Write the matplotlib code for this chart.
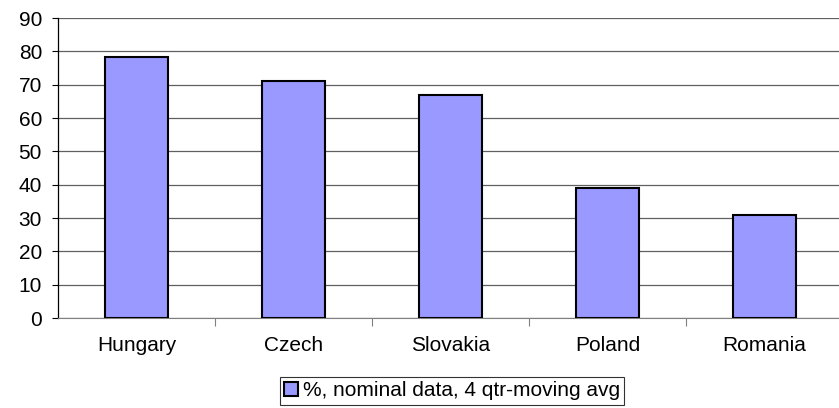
import matplotlib.pyplot as plt
import numpy as np

countries = ['Hungary', 'Czech', 'Slovakia', 'Poland', 'Romania']
values = [78.3, 71.2, 67.0, 39.0, 30.9]
series_label = '%, nominal data, 4 qtr-moving avg'

plt.rcParams['font.family'] = ['Liberation Sans', 'DejaVu Sans']

fig = plt.figure(figsize=(8.39, 4.08), dpi=100)
ax = fig.add_axes([58 / 839, 1 - 318 / 408, 785 / 839, 300 / 408])

x = np.arange(len(countries))
bars = ax.bar(x, values, width=0.4, color='#9999FF', edgecolor='black',
              linewidth=1.5, label=series_label, zorder=3)

ax.set_xlim(-0.5, len(countries) - 0.5)
ax.set_ylim(0, 90)
ax.set_yticks(range(0, 91, 10))
ax.tick_params(axis='y', labelsize=15, length=4.5, width=0.8, direction='out', pad=7)
ax.set_xticks(x)
ax.set_xticklabels(countries, fontsize=15)
ax.tick_params(axis='x', length=0, pad=13)
# tick marks between categories
ax.set_xticks(np.arange(0.5, len(countries) - 0.5, 1), minor=True)
ax.tick_params(axis='x', which='minor', length=6, width=0.8, color='#808080')

ax.yaxis.grid(True, color='#606060', linewidth=0.9, zorder=0)
for s in ['top', 'right']:
    ax.spines[s].set_visible(False)
ax.spines['bottom'].set_color('#808080')
ax.spines['left'].set_color('black')
ax.spines['left'].set_linewidth(0.9)

leg = fig.legend(handles=[bars], labels=[series_label], loc='center',
                 bbox_to_anchor=(452 / 839, 1 - 391 / 408), fontsize=15,
                 frameon=True, fancybox=False, edgecolor='black',
                 handlelength=0.65, handleheight=0.65, handletextpad=0.25,
                 borderpad=0.2, borderaxespad=0)
leg.get_frame().set_linewidth(0.8)

fig.savefig('out.png', dpi=100)
